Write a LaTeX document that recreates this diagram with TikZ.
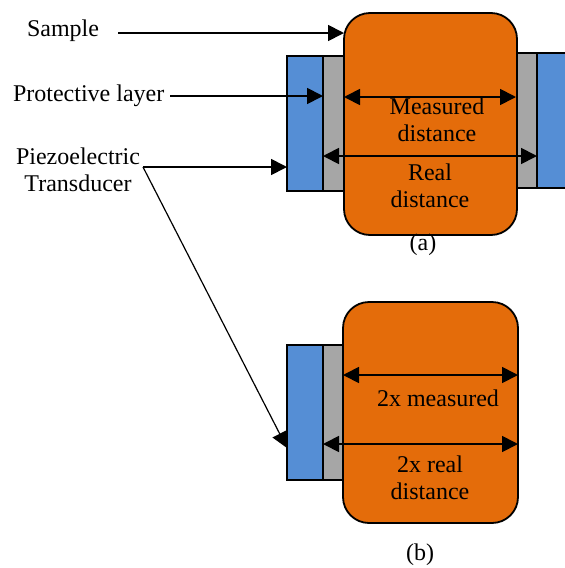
\documentclass[tikz,border=0pt]{standalone}
\usepackage{fontspec}
\setmainfont{Liberation Serif}
\usetikzlibrary{arrows.meta}

\definecolor{sampleorange}{RGB}{228,108,10}
\definecolor{piezoblue}{RGB}{85,142,213}
\definecolor{layergray}{RGB}{166,166,166}

\begin{document}
\begin{tikzpicture}[x=0.5pt,y=-0.5pt,
  every node/.style={font=\fontsize{12}{13.5}\selectfont, align=center},
  piezo/.style={fill=piezoblue, draw=black, line width=0.9pt},
  layer/.style={fill=layergray, draw=black, line width=0.9pt},
  sample/.style={fill=sampleorange, draw=black, line width=0.9pt, rounded corners=13pt},
  pointer/.style={-{Triangle[length=8pt,width=8pt]}, line width=0.9pt},
  span/.style={{Triangle[length=8pt,width=8pt]}-{Triangle[length=8pt,width=8pt]}, line width=0.9pt}]

\clip (0,0) rectangle (565,568);

% Muestra (a)
\filldraw[piezo] (287,56) rectangle (323,191);
\filldraw[layer] (323,56) rectangle (344,191);
\filldraw[layer] (516,53) rectangle (537,188);
\filldraw[piezo] (537,53) rectangle (575,188);
\filldraw[sample] (344,13) rectangle (517,235);

% Muestra (b)
\filldraw[piezo] (287,345) rectangle (323,480);
\filldraw[layer] (323,345) rectangle (343,480);
\filldraw[sample] (343,302) rectangle (518,523);

% Puntos de las flechas
\coordinate (measA1) at (344,97);
\coordinate (measA2) at (516,97);
\coordinate (realA1) at (323,156);
\coordinate (realA2) at (537,156);
\coordinate (measB1) at (343,375);
\coordinate (measB2) at (518,375);
\coordinate (realB1) at (323,444);
\coordinate (realB2) at (518,444);

\draw[span] (measA1) -- (measA2);
\draw[span] (realA1) -- (realA2);
\draw[span] (measB1) -- (measB2);
\draw[span] (realB1) -- (realB2);

% Textos
\node (measTxtA) at (437,120) {Measured\\distance};
\node (realTxtA) at (430,186) {Real\\distance};
\node (measTxtB) at (438,398) {2x measured};
\node (realTxtB) at (430,478) {2x real\\distance};
\node (capA) at (423,245) {(a)};
\node (capB) at (420,555) {(b)};

% Etiquetas
\node[anchor=west] (sampleLbl) at (20,31) {Sample};
\node[anchor=west] (layerLbl) at (6,96) {Protective layer};
\node (piezoLbl) at (78,170) {Piezoelectric\\Transducer};

\coordinate (sampleS) at (118,33);
\coordinate (sampleT) at (344,33);
\coordinate (layerS) at (170,96);
\coordinate (layerT) at (323,96);
\coordinate (piezoS) at (143,167);
\coordinate (piezoTA) at (287,167);
\coordinate (piezoTB) at (287,448);

\draw[pointer] (sampleS) -- (sampleT);
\draw[pointer] (layerS) -- (layerT);
\draw[pointer] (piezoS) -- (piezoTA);
\draw[pointer, line width=0.6pt] (piezoS) -- (piezoTB);

\end{tikzpicture}
\end{document}
